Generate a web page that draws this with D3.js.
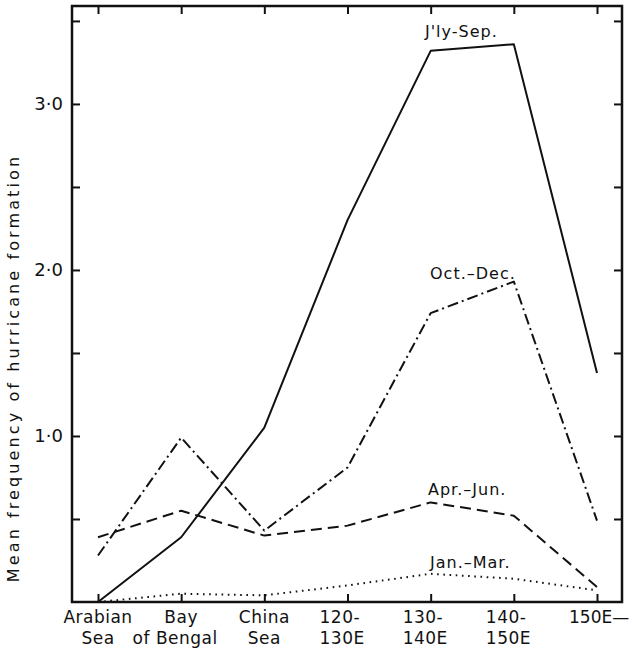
<!DOCTYPE html>
<html>
<head>
<meta charset="utf-8">
<script src="https://cdn.jsdelivr.net/npm/d3@7/dist/d3.min.js"></script>
<style>
  html, body { margin: 0; padding: 0; background: #fff; }
  text { font-family: "DejaVu Sans", sans-serif; fill: #111; }
</style>
</head>
<body>
<svg id="chart" width="632" height="650"></svg>
<script>
// ---- data ----
const categories = ["Arabian Sea", "Bay of Bengal", "China Sea", "120-130E", "130-140E", "140-150E", "150E"];
const catLine1 = ["Arabian", "Bay", "China", "120-", "130-", "140-", "150E\u2014"];
const catLine2 = ["Sea", "of Bengal", "Sea", "130E", "140E", "150E", ""];
const julSep = [0.0, 0.39, 1.05, 2.30, 3.32, 3.36, 1.38];
const octDec = [0.28, 0.99, 0.43, 0.81, 1.74, 1.93, 0.49];
const aprJun = [0.39, 0.55, 0.40, 0.46, 0.60, 0.52, 0.09];
const janMar = [0.0, 0.05, 0.04, 0.10, 0.17, 0.14, 0.07];
const seriesNames = ["J'ly-Sep.", "Oct.\u2013Dec.", "Apr.\u2013Jun.", "Jan.\u2013Mar."];
const yTickValues = [0.5, 1.0, 1.5, 2.0, 2.5, 3.0, 3.5];
const yTickLabels = {1: "1\u00B70", 2: "2\u00B70", 3: "3\u00B70"};
const yTitle = "Mean frequency of hurricane formation";

// ---- layout ----
const mLeft = 72, mRight = 622, mTop = 6, mBottom = 602;
const svg = d3.select("#chart");

const x = d3.scalePoint().domain(categories).range([98, 597]);
const y = d3.scaleLinear().domain([0, 3.59]).range([mBottom, mTop]);

// frame
svg.append("rect")
  .attr("x", mLeft).attr("y", mTop)
  .attr("width", mRight - mLeft).attr("height", mBottom - mTop)
  .attr("fill", "none").attr("stroke", "#111").attr("stroke-width", 2.5);

// inward ticks using axes
const tickLen = 8;
function styleTicks(g) {
  g.select(".domain").remove();
  g.selectAll("line").attr("stroke", "#111").attr("stroke-width", 2);
}
svg.append("g").attr("transform", `translate(0,${mBottom})`)
  .call(d3.axisBottom(x).tickSize(-tickLen).tickFormat(""))
  .call(styleTicks);
svg.append("g").attr("transform", `translate(0,${mTop})`)
  .call(d3.axisTop(x).tickSize(-tickLen).tickFormat(""))
  .call(styleTicks);
svg.append("g").attr("transform", `translate(${mLeft},0)`)
  .call(d3.axisLeft(y).tickValues(yTickValues).tickSize(-tickLen).tickFormat(""))
  .call(styleTicks);
svg.append("g").attr("transform", `translate(${mRight},0)`)
  .call(d3.axisRight(y).tickValues(yTickValues).tickSize(-tickLen).tickFormat(""))
  .call(styleTicks);

// y tick labels
svg.append("g").selectAll("text")
  .data([1, 2, 3]).join("text")
  .attr("x", 63).attr("y", d => y(d))
  .attr("dy", "0.35em")
  .attr("text-anchor", "end")
  .attr("font-size", 18)
  .text(d => yTickLabels[d]);

// y title
svg.append("text")
  .attr("transform", `translate(19,368) rotate(-90)`)
  .attr("text-anchor", "middle")
  .attr("font-size", 16)
  .attr("letter-spacing", 3.1)
  .text(yTitle);

// x labels
const xl = svg.append("g").attr("font-size", 17).attr("letter-spacing", 0.5);
categories.forEach((c, i) => {
  const cx = x(c);
  const numeric = i >= 3 && i <= 5;
  if (numeric) {
    xl.append("text").attr("x", cx - 28).attr("y", 623).attr("text-anchor", "start").text(catLine1[i]);
    xl.append("text").attr("x", cx - 28).attr("y", 644).attr("text-anchor", "start").text(catLine2[i]);
  } else if (i === 6) {
    xl.append("text").attr("x", cx - 28).attr("y", 623).attr("text-anchor", "start")
      .attr("letter-spacing", 0).text(catLine1[i]);
  } else {
    xl.append("text").attr("x", cx).attr("y", 623).attr("text-anchor", "middle").text(catLine1[i]);
    xl.append("text").attr("x", cx - (i === 1 ? 6 : 0)).attr("y", 644).attr("text-anchor", "middle").text(catLine2[i]);
  }
});

// series
const line = d3.line().x((d, i) => x(categories[i])).y(d => y(d));
const series = [
  {vals: julSep, dash: null},
  {vals: octDec, dash: "11,4,2,4"},
  {vals: aprJun, dash: "11,6"},
  {vals: janMar, dash: "1.6,4.6"}
];
series.forEach(s => {
  svg.append("path")
    .attr("d", line(s.vals))
    .attr("fill", "none")
    .attr("stroke", "#111")
    .attr("stroke-width", 2)
    .attr("stroke-linejoin", "round")
    .attr("stroke-dasharray", s.dash);
});

// series labels
const labelPos = [[425, 37], [430, 279], [428, 495], [430, 568]];
svg.append("g").selectAll("text")
  .data(seriesNames).join("text")
  .attr("x", (d, i) => labelPos[i][0])
  .attr("y", (d, i) => labelPos[i][1])
  .attr("font-size", 16)
  .attr("letter-spacing", 1)
  .text(d => d);
</script>
</body>
</html>
